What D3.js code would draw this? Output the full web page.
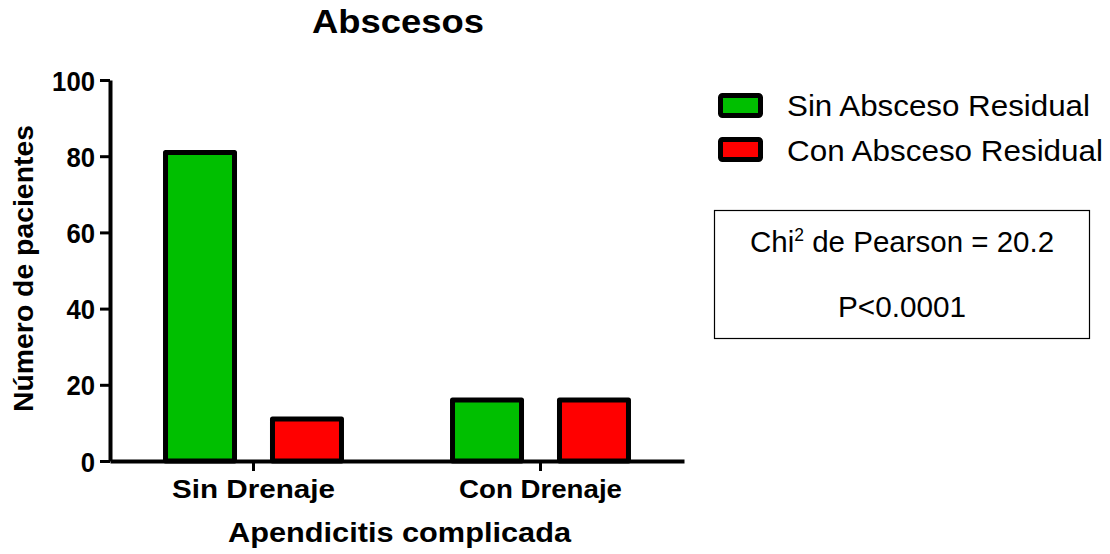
<!DOCTYPE html>
<html><head><meta charset="utf-8">
<script src="https://cdn.jsdelivr.net/npm/d3@7"></script>
<style>body{margin:0;background:#fff}svg{font-family:"Liberation Sans",Arial,sans-serif}</style>
</head><body><svg id="c" width="1110" height="554"></svg>
<script>
const categories = ["Sin Drenaje", "Con Drenaje"];
const seriesNames = ["Sin Absceso Residual", "Con Absceso Residual"];
const sinAbsceso = [81, 16];
const conAbsceso = [11, 16];
const yTicks = [0, 20, 40, 60, 80, 100];
const colors = ["#00bf00", "#ff0000"];

const FF = "Liberation Sans, Arial, sans-serif";
const svg = d3.select("#c");
const x0 = 110, x1 = 684, yb = 461, yt = 80;
const x = d3.scaleBand().domain(categories).range([x0, x1]);
const y = d3.scaleLinear().domain([0, 100]).range([yb, yt]);
const xs = d3.scaleBand().domain(seriesNames).range([0, x.bandwidth()]).paddingInner(0.355).paddingOuter(0.519);

const series = [sinAbsceso, conAbsceso];
series.forEach((vals, si) => {
  svg.append("g").selectAll("rect").data(vals).join("rect")
    .attr("x", (d, i) => x(categories[i]) + xs(seriesNames[si]))
    .attr("y", d => y(d))
    .attr("width", xs.bandwidth())
    .attr("height", d => yb - y(d))
    .attr("fill", colors[si]).attr("stroke", "#000").attr("stroke-width", 5)
    .attr("stroke-linejoin", "round");
});

const ya = svg.append("g").attr("transform", `translate(${x0},0)`)
  .call(d3.axisLeft(y).tickValues(yTicks).tickSize(10).tickSizeOuter(0).tickPadding(5));
ya.select(".domain").attr("stroke-width", 4);
ya.selectAll(".tick line").attr("stroke-width", 3);
ya.selectAll("text").attr("font-size", 28).attr("font-weight", "bold").attr("fill", "#000")
  .attr("font-family", FF).attr("dy", "0.36em")
  .attr("textLength", d => String(d).length * 14.3).attr("lengthAdjust", "spacingAndGlyphs");

const xa = svg.append("g").attr("transform", `translate(0,${yb})`)
  .call(d3.axisBottom(x).tickSize(10).tickSizeOuter(0).tickPadding(8));
xa.select(".domain").attr("stroke-width", 4);
xa.selectAll(".tick line").attr("stroke-width", 3);
xa.selectAll("text").attr("font-size", 26.5).attr("font-weight", "bold").attr("fill", "#000")
  .attr("font-family", FF).attr("y", 37).attr("dy", 0)
  .attr("textLength", 163).attr("lengthAdjust", "spacingAndGlyphs");

svg.append("text").attr("x", 398).attr("y", 33).attr("text-anchor", "middle")
  .attr("font-size", 33.5).attr("font-weight", "bold")
  .attr("textLength", 172).attr("lengthAdjust", "spacingAndGlyphs").text("Abscesos");
svg.append("text").attr("x", 399.5).attr("y", 542).attr("text-anchor", "middle")
  .attr("font-size", 28.5).attr("font-weight", "bold")
  .attr("textLength", 343).attr("lengthAdjust", "spacingAndGlyphs").text("Apendicitis complicada");
svg.append("text").attr("transform", "translate(33,268.5) rotate(-90)").attr("text-anchor", "middle")
  .attr("font-size", 27).attr("font-weight", "bold")
  .attr("textLength", 287).attr("lengthAdjust", "spacingAndGlyphs").text("Número de pacientes");

const lg = svg.append("g");
const legW = [303, 316];
seriesNames.forEach((n, i) => {
  const top = 95.5 + i * 44;
  lg.append("rect").attr("x", 720.5).attr("y", top).attr("width", 40).attr("height", 20)
    .attr("fill", colors[i]).attr("stroke", "#000").attr("stroke-width", 5).attr("rx", 2);
  lg.append("text").attr("x", 787).attr("y", 116 + i * 45).attr("font-size", 29)
    .attr("textLength", legW[i]).attr("lengthAdjust", "spacingAndGlyphs").text(n);
});

svg.append("rect").attr("x", 714.5).attr("y", 210.5).attr("width", 375).attr("height", 128)
  .attr("fill", "none").attr("stroke", "#000").attr("stroke-width", 1.2);
const t1 = svg.append("text").attr("x", 750).attr("y", 252).attr("font-size", 29.5);
t1.append("tspan").text("Chi");
t1.append("tspan").attr("font-size", 17.5).attr("dy", -11).text("2");
t1.append("tspan").attr("dy", 11).text(" de Pearson = 20.2");
svg.append("text").attr("x", 902).attr("y", 317).attr("text-anchor", "middle").attr("font-size", 29)
  .attr("textLength", 128).attr("lengthAdjust", "spacingAndGlyphs").text("P<0.0001");
</script></body></html>
